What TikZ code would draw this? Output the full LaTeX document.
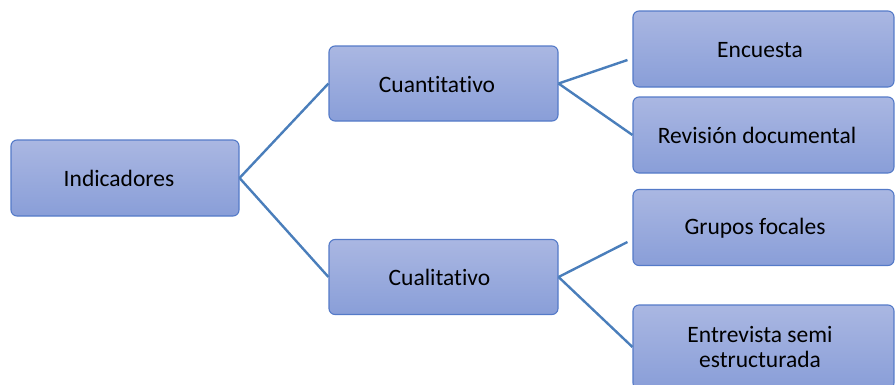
\documentclass[tikz,border=0pt]{standalone}
\usepackage{fontspec}
\setmainfont{Carlito}[RawFeature={-liga;-clig;-dlig}]
\usetikzlibrary{calc}
\definecolor{boxtop}{RGB}{170,183,226}
\definecolor{boxbot}{RGB}{137,158,216}
\definecolor{boxline}{RGB}{84,122,200}
\definecolor{conn}{RGB}{74,126,187}
\tikzset{
  box/.style={rectangle, rounded corners=6pt, draw=boxline, line width=1.1pt,
    top color=boxtop, bottom color=boxbot, inner sep=0pt},
  lbox/.style={box, minimum width=228pt, minimum height=76pt},
  mbox/.style={box, minimum width=229pt, minimum height=75pt},
  rbox/.style={box, minimum width=261pt, minimum height=76pt},
  lbl/.style={inner sep=0pt, align=center, font=\fontsize{23.5}{25}\selectfont, text=black},
  link/.style={draw=conn, line width=2.4pt}
}
\begin{document}
\begin{tikzpicture}[x=1pt,y=-1pt]
\useasboundingbox (0,0) rectangle (895,384);
\clip (0,0) rectangle (895,384);
% boxes
\node[lbox] (ind)  at (125,178) {};
\node[mbox] (cuan) at (443.5,83.5) {};
\node[mbox] (cual) at (443.5,277) {};
\node[rbox] (enc)  at (763.5,49) {};
\node[rbox] (rev)  at (763.5,135) {};
\node[rbox] (gru)  at (763.5,227.5) {};
\node[box, minimum width=261pt, minimum height=84pt] (ent) at (763.5,347) {};
% labels
\node[lbl] (indt)  at (119,178.5) {Indicadores};
\node[lbl] (cuant) at (437,84) {Cuantitativo};
\node[lbl] (cualt) at (439.5,277.5) {Cualitativo};
\node[lbl] (enct)  at (760,50) {Encuesta};
\node[lbl] (revt)  at (757,135.5) {Revisión documental};
\node[lbl] (grut)  at (755,228) {Grupos focales};
\node[lbl] (entt)  at (760,347) {Entrevista semi\\estructurada};
% connector ends
\coordinate (e1) at ($(enc.west)+(-5,11)$);
\coordinate (g1) at ($(gru.west)+(-5,14.5)$);
% connectors
\draw[link] (ind.east) -- (cuan.west);
\draw[link] (ind.east) -- (cual.west);
\draw[link] (cuan.east) -- (e1);
\draw[link] (cuan.east) -- (rev.west);
\draw[link] (cual.east) -- (g1);
\draw[link] (cual.east) -- (ent.west);
\end{tikzpicture}
\end{document}
